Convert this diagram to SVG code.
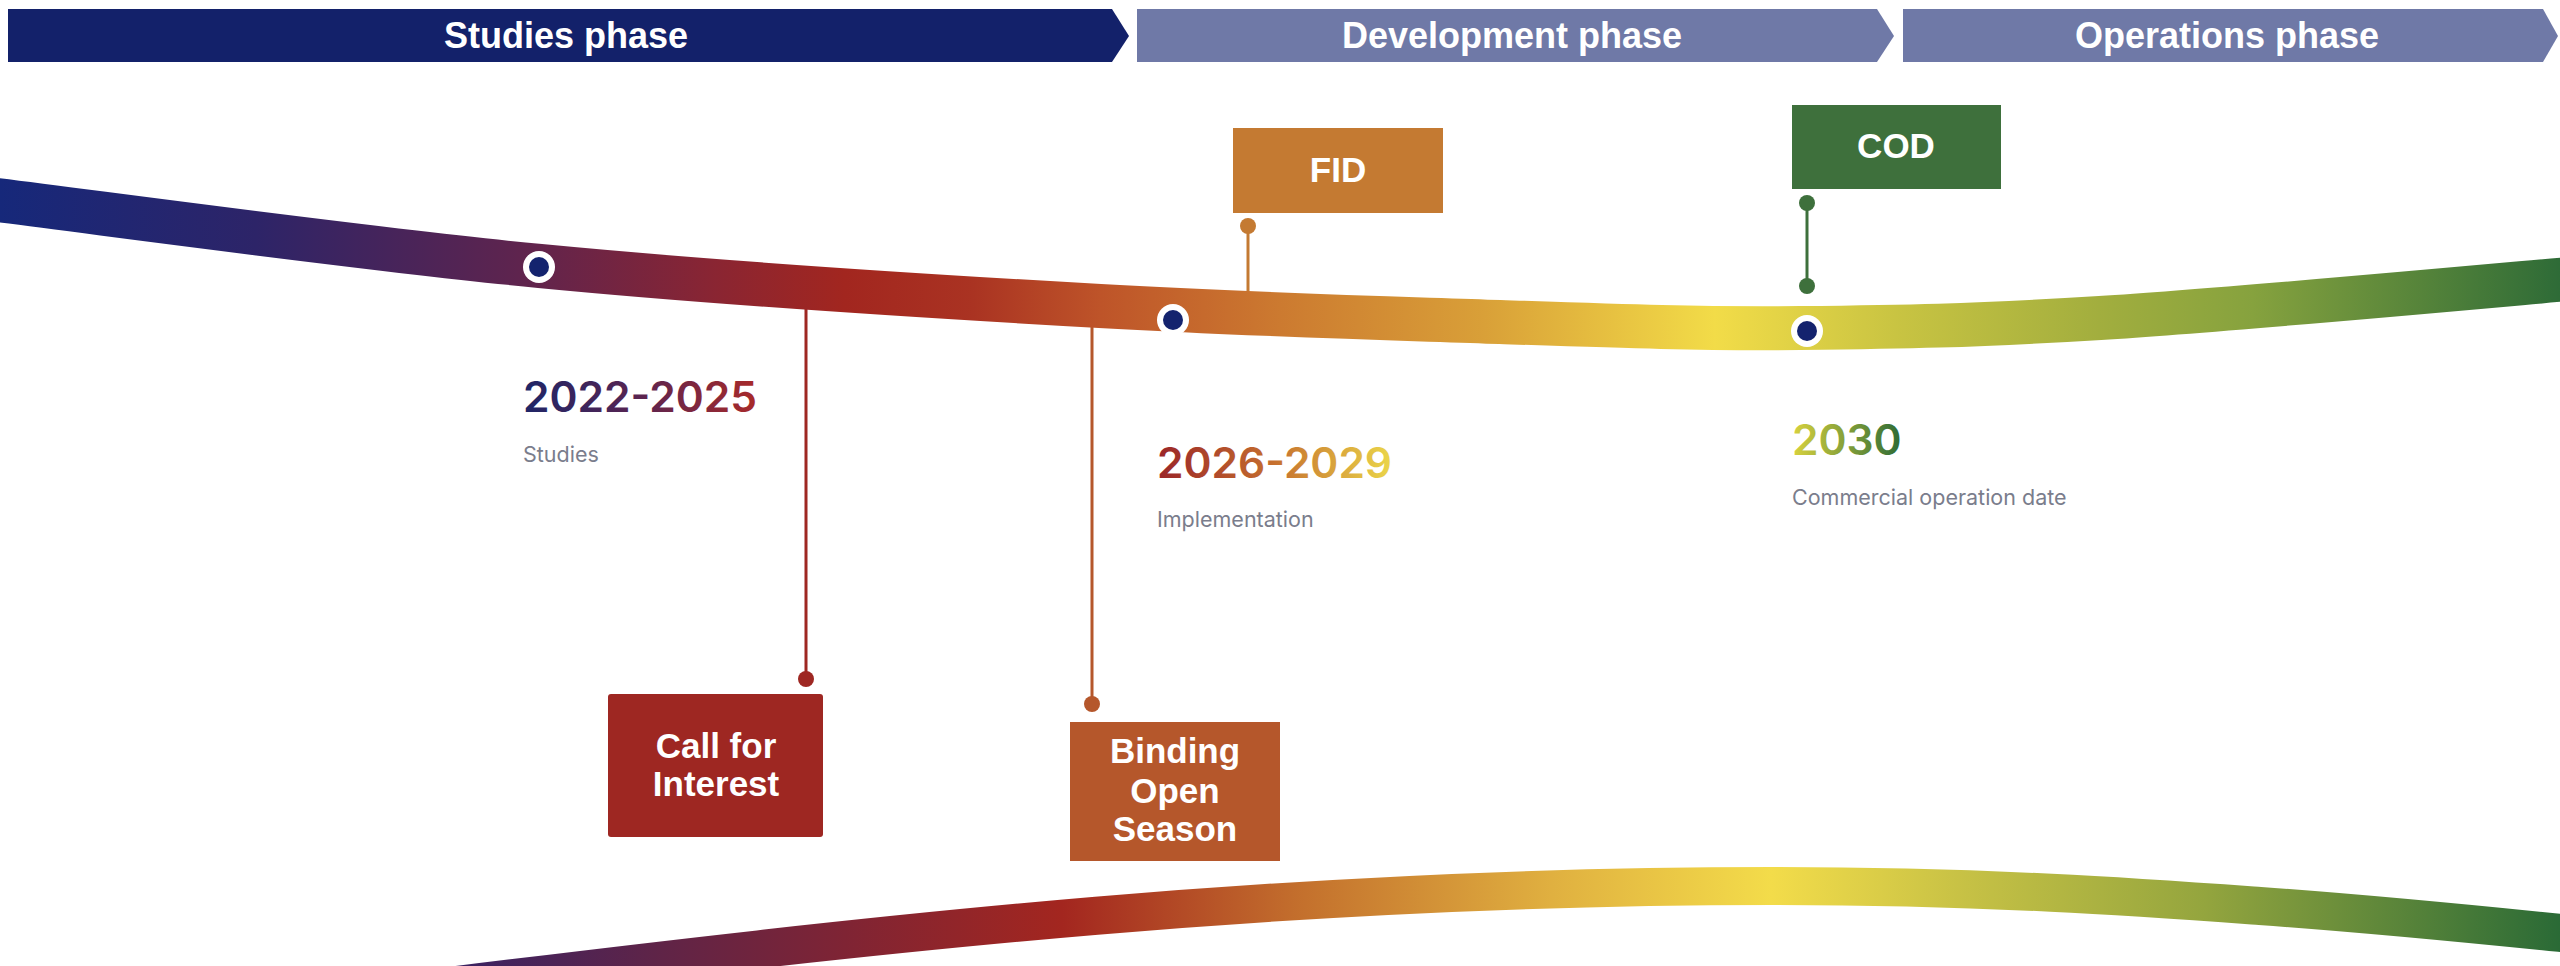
<svg xmlns="http://www.w3.org/2000/svg" width="2560" height="966" viewBox="0 0 2560 966">
  <defs>
    <linearGradient id="gTop" gradientUnits="userSpaceOnUse" x1="0" y1="0" x2="2560" y2="0">
      <stop offset="0" stop-color="#16287A"/>
      <stop offset="0.10" stop-color="#2D2468"/>
      <stop offset="0.21" stop-color="#62244C"/>
      <stop offset="0.28" stop-color="#8A2532"/>
      <stop offset="0.33" stop-color="#A2261F"/>
      <stop offset="0.38" stop-color="#AA3322"/>
      <stop offset="0.43" stop-color="#BE5429"/>
      <stop offset="0.50" stop-color="#CC7A30"/>
      <stop offset="0.58" stop-color="#D9A038"/>
      <stop offset="0.67" stop-color="#F2DC48"/>
      <stop offset="0.74" stop-color="#C9C442"/>
      <stop offset="0.82" stop-color="#A2AE3E"/>
      <stop offset="0.88" stop-color="#86A23E"/>
      <stop offset="1" stop-color="#2E6B37"/>
    </linearGradient>
    <linearGradient id="gBot" gradientUnits="userSpaceOnUse" x1="0" y1="0" x2="2560" y2="0">
      <stop offset="0" stop-color="#1B2570"/>
      <stop offset="0.18" stop-color="#3B2262"/>
      <stop offset="0.255" stop-color="#5E2448"/>
      <stop offset="0.33" stop-color="#7F2434"/>
      <stop offset="0.415" stop-color="#A3261F"/>
      <stop offset="0.51" stop-color="#C4712D"/>
      <stop offset="0.606" stop-color="#E0B040"/>
      <stop offset="0.692" stop-color="#F3DC4A"/>
      <stop offset="0.765" stop-color="#C8C245"/>
      <stop offset="0.861" stop-color="#94A53E"/>
      <stop offset="1" stop-color="#2A6A36"/>
    </linearGradient>
    <linearGradient id="gY1" x1="0" y1="0" x2="1" y2="0">
      <stop offset="0" stop-color="#1E2567"/>
      <stop offset="0.5" stop-color="#5A2450"/>
      <stop offset="1" stop-color="#A82A2A"/>
    </linearGradient>
    <linearGradient id="gY2" x1="0" y1="0" x2="1" y2="0">
      <stop offset="0" stop-color="#9A2528"/>
      <stop offset="0.5" stop-color="#C6702E"/>
      <stop offset="1" stop-color="#EBD64A"/>
    </linearGradient>
    <linearGradient id="gY3" x1="0" y1="0" x2="1" y2="0">
      <stop offset="0" stop-color="#D8D23E"/>
      <stop offset="1" stop-color="#2E6B35"/>
    </linearGradient>
  </defs>
  <style>
    .hdr { font-family: "Liberation Sans", Arial, sans-serif; font-weight: bold; font-size: 36px; fill: #ffffff; text-anchor: middle; }
    .box { font-family: "Liberation Sans", Arial, sans-serif; font-weight: bold; font-size: 35px; fill: #ffffff; text-anchor: middle; }
    .year { font-family: "Inter", "Liberation Sans", sans-serif; font-weight: 600; font-size: 42.5px; }
    .sub { font-family: "Inter", "Liberation Sans", sans-serif; font-size: 21.5px; fill: #7A7D8C; }
    .ribbon { fill: none; stroke-linecap: butt; }
    .conn { stroke-width: 3; fill: none; }
  </style>
  <rect width="2560" height="966" fill="#ffffff"/>

  <g id="phase-studies">
    <polygon points="8,9 1112,9 1129,36 1112,62 8,62" fill="#13216A"/>
    <text class="hdr" x="566" y="48">Studies phase</text>
  </g>
  <g id="phase-development">
    <polygon points="1137,9 1877,9 1894,36 1877,62 1137,62" fill="#6F79A7"/>
    <text class="hdr" x="1512" y="48">Development phase</text>
  </g>
  <g id="phase-operations">
    <polygon points="1903,9 2543,9 2558,36 2543,62 1903,62" fill="#6F79A7"/>
    <text class="hdr" x="2227" y="48">Operations phase</text>
  </g>

  <g id="connectors">
    <line class="conn" x1="806" y1="296" x2="806" y2="679" stroke="#9E2722"/>
    <circle cx="806" cy="679" r="8" fill="#9E2722"/>
    <line class="conn" x1="1092" y1="318" x2="1092" y2="704" stroke="#B5572B"/>
    <circle cx="1092" cy="704" r="8" fill="#B5572B"/>
    <line class="conn" x1="1248" y1="226" x2="1248" y2="300" stroke="#C47A32"/>
    <circle cx="1248" cy="226" r="8" fill="#C47A32"/>
    <line class="conn" x1="1807" y1="203" x2="1807" y2="286" stroke="#3E703C"/>
    <circle cx="1807" cy="203" r="8" fill="#3E703C"/>
    <circle cx="1807" cy="286" r="8" fill="#3E703C"/>
  </g>

  <g id="ribbon-top">
    <path class="ribbon" stroke="url(#gTop)" stroke-width="44"
      d="M -20 198 C 73 209, 353 248, 540 266 C 727 284, 940 297, 1100 306 C 1260 315, 1383 318, 1500 322 C 1617 326, 1700 329, 1800 328 C 1900 327, 1970 326, 2100 318 C 2230 310, 2500 285, 2580 278"/>
  </g>
  <g id="ribbon-bottom">
    <path class="ribbon" stroke="url(#gBot)" stroke-width="38"
      d="M 400 992 C 900 930, 1300 886, 1772 886 C 1990 886, 2150 898, 2260 906 C 2400 916, 2520 929, 2600 937"/>
  </g>

  <g id="milestone-1">
    <circle cx="539" cy="267" r="16" fill="#ffffff"/>
    <circle cx="539" cy="267" r="10" fill="#14236E"/>
    <text class="year" x="523" y="412" fill="url(#gY1)">2022-2025</text>
    <text class="sub" x="523" y="462">Studies</text>
  </g>
  <g id="milestone-2">
    <circle cx="1173" cy="320" r="16" fill="#ffffff"/>
    <circle cx="1173" cy="320" r="10" fill="#14236E"/>
    <text class="year" x="1157" y="478" fill="url(#gY2)">2026-2029</text>
    <text class="sub" x="1157" y="527">Implementation</text>
  </g>
  <g id="milestone-3">
    <circle cx="1807" cy="331" r="16" fill="#ffffff"/>
    <circle cx="1807" cy="331" r="10" fill="#14236E"/>
    <text class="year" x="1792" y="455" fill="url(#gY3)">2030</text>
    <text class="sub" x="1792" y="505">Commercial operation date</text>
  </g>

  <g id="box-fid">
    <rect x="1233" y="128" width="210" height="85" fill="#C47A32"/>
    <text class="box" x="1338" y="182">FID</text>
  </g>
  <g id="box-cod">
    <rect x="1792" y="105" width="209" height="84" fill="#3E703C"/>
    <text class="box" x="1896" y="158">COD</text>
  </g>
  <g id="box-call">
    <rect x="608" y="694" width="215" height="143" rx="3" fill="#9E2722"/>
    <text class="box" x="716" y="758">Call for</text>
    <text class="box" x="716" y="796">Interest</text>
  </g>
  <g id="box-binding">
    <rect x="1070" y="722" width="210" height="139" fill="#B5572B"/>
    <text class="box" x="1175" y="763">Binding</text>
    <text class="box" x="1175" y="803">Open</text>
    <text class="box" x="1175" y="841">Season</text>
  </g>
</svg>
